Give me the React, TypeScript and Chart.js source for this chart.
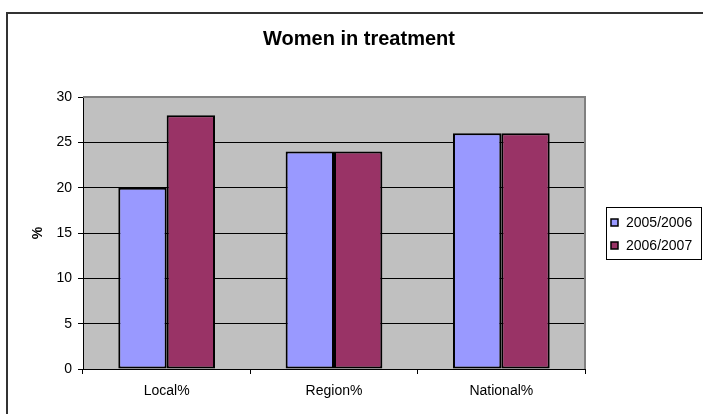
import React, { useEffect, useRef } from "react";
import { Chart, registerables } from "chart.js";

Chart.register(...registerables);

const categories = ["Local%", "Region%", "National%"];
const seriesLabels = ["2005/2006", "2006/2007"];
const values2005 = [20, 24, 26];
const values2006 = [28, 24, 26];
const seriesColors = ["#9999FF", "#993366"];
const yTicks = [0, 5, 10, 15, 20, 25, 30];
const titleText = "Women in treatment";
const yTitle = "%";

const FONT = "'Liberation Sans', Arial, sans-serif";

const decorPlugin = {
  id: "decor",
  beforeDraw(chart: any) {
    const { ctx, chartArea } = chart;
    ctx.save();
    ctx.fillStyle = "#ffffff";
    ctx.fillRect(0, 0, chart.width, chart.height);
    // outer border
    ctx.strokeStyle = "#333333";
    ctx.lineWidth = 2;
    ctx.strokeRect(7, 13, 900, 600);
    // plot area background
    ctx.fillStyle = "#C0C0C0";
    ctx.fillRect(chartArea.left, chartArea.top, chartArea.right - chartArea.left, chartArea.bottom - chartArea.top);
    ctx.restore();
  },
  afterDraw(chart: any) {
    const { ctx, chartArea } = chart;
    ctx.save();
    // plot area border top/right
    ctx.strokeStyle = "#808080";
    ctx.lineWidth = 2;
    ctx.beginPath();
    ctx.moveTo(chartArea.left, chartArea.top);
    ctx.lineTo(chartArea.right, chartArea.top);
    ctx.lineTo(chartArea.right, chartArea.bottom);
    ctx.stroke();
    // title
    ctx.fillStyle = "#000";
    ctx.font = `bold 20px ${FONT}`;
    ctx.textAlign = "center";
    ctx.textBaseline = "middle";
    ctx.fillText(titleText, 359, 39);
    // legend
    ctx.strokeStyle = "#000";
    ctx.lineWidth = 1;
    ctx.strokeRect(606.5, 207.5, 95, 52);
    ctx.font = `14px ${FONT}`;
    ctx.textAlign = "left";
    chart.data.datasets.forEach((ds: any, i: number) => {
      const cy = 223 + i * 23;
      ctx.fillStyle = ds.backgroundColor;
      ctx.fillRect(611, cy - 4, 7, 7);
      ctx.strokeStyle = "#000";
      ctx.lineWidth = 1.5;
      ctx.strokeRect(611, cy - 4, 7, 7);
      ctx.fillStyle = "#000";
      ctx.fillText(ds.label, 626, cy);
    });
    ctx.restore();
  },
};

export default function App() {
  const ref = useRef<HTMLCanvasElement | null>(null);
  useEffect(() => {
    if (!ref.current) return;
    const chart = new Chart(ref.current, {
      type: "bar",
      data: {
        labels: categories,
        datasets: [
          {
            label: seriesLabels[0],
            data: values2005,
            backgroundColor: seriesColors[0],
            borderColor: "#000",
            borderWidth: 2,
            borderSkipped: false,
            categoryPercentage: 0.578,
            barPercentage: 1,
          },
          {
            label: seriesLabels[1],
            data: values2006,
            backgroundColor: seriesColors[1],
            borderColor: "#000",
            borderWidth: 2,
            borderSkipped: false,
            categoryPercentage: 0.578,
            barPercentage: 1,
          },
        ],
      },
      options: {
        responsive: false,
        animation: false,
        devicePixelRatio: 1,
        layout: { padding: { top: 97, right: 118, bottom: 0, left: 0 } },
        plugins: { legend: { display: false }, title: { display: false }, tooltip: { enabled: false } },
        scales: {
          x: {
            offset: true,
            grid: { display: true, drawOnChartArea: false, drawTicks: true, tickLength: 5, color: "#000", lineWidth: 1, offset: true },
            border: { display: true, color: "#000", width: 1 },
            ticks: { color: "#000", font: { family: FONT, size: 14 }, padding: 9, maxRotation: 0 },
            afterFit: (s: any) => { s.height = 45; },
          },
          y: {
            min: yTicks[0],
            max: yTicks[yTicks.length - 1],
            afterBuildTicks: (s: any) => { s.ticks = yTicks.map((v) => ({ value: v })); },
            grid: { color: "#000", lineWidth: 1, drawTicks: true, tickLength: 5 },
            border: { display: true, color: "#000", width: 1 },
            ticks: { color: "#000", font: { family: FONT, size: 14 }, padding: 6 },
            title: { display: true, text: yTitle, color: "#000", font: { family: FONT, size: 14, weight: "bold" }, padding: { top: 30, bottom: 0 } },
            afterFit: (s: any) => { s.width = 83; },
          },
        },
      },
      plugins: [decorPlugin],
    });
    return () => chart.destroy();
  }, []);
  return (
    <div style={{ position: "absolute", left: 0, top: 0, width: 703, height: 414 }}>
      <canvas ref={ref} width={703} height={414} style={{ display: "block" }} />
    </div>
  );
}
